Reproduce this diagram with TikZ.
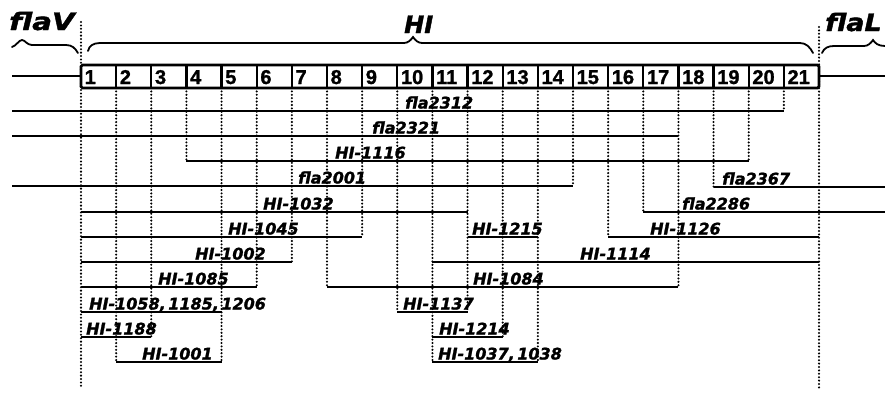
\documentclass[tikz,border=0pt]{standalone}
\usepackage{fontspec}
\newfontfamily\labfont{DejaVu Sans}[BoldItalicFeatures={FakeBold=1.5}]
\newfontfamily\numfont{Liberation Sans}[BoldFeatures={FakeBold=1.2}]
\newcommand\tightsp{\spaceskip=2.5pt\relax}
\begin{document}
\begin{tikzpicture}[x=1pt,y=-1pt,
  seg/.style={line width=2.4pt},
  dots/.style={line width=2.3pt, dash pattern=on 0pt off 3.4pt, line cap=round},
  brace/.style={line width=1.8pt, line cap=round},
  lab/.style={font=\labfont\bfseries\itshape\fontsize{16}{16}\selectfont, inner sep=0pt, anchor=base west, execute at begin node=\tightsp},
  biglab/.style={font=\labfont\bfseries\itshape\fontsize{24}{24}\selectfont, inner sep=0pt, anchor=base west},
  cellnum/.style={font=\numfont\bfseries\fontsize{20}{20}\selectfont, inner sep=0pt, anchor=base west}]
\useasboundingbox (0,0) rectangle (885,392);
\def\B#1{(81+35.143*#1)}
% boundary coordinates at box bottom
\foreach \k in {0,...,21}{\coordinate (b\k) at ({\B{\k}},88);}
% dotted guide lines
\draw[dots] (81,22) -- (81,388);
\draw[dots] (819,27) -- (819,388);
\foreach \k/\yb in {1/362,2/337,3/161,4/362,5/287,6/262,7/287,8/237,9/312,10/362,11/312,12/337,13/362,14/186,15/237,16/212,17/287,18/187,19/161,20/111}
  \draw[dots] (b\k) -- ({\B{\k}},\yb);
% main segment box
\draw[seg] (12,76) -- (81,76);
\draw[seg] (819,76) -- (885,76);
\draw[line width=2.6pt, fill=white, rounded corners=1.5pt] (81,65) rectangle (819,88);
\foreach \k in {1,...,20}
  \draw[line width=2.2pt] ({\B{\k}},65) -- ({\B{\k}},88);
\foreach \k in {1,...,21}
  \node[cellnum] (n\k) at ({\B{(\k-1)}+3.5},84) {\k};
% braces
\draw[brace] (12,47) .. controls (16,46) and (19,40) .. (22,40) .. controls (25,40) and (27,45) .. (32,45) -- (66,45) .. controls (72,45) and (75,48) .. (78,53);
\draw[brace] (88,51) .. controls (89,46) and (93,43) .. (100,43) -- (404,43) .. controls (408,43) and (411,40) .. (413,37) .. controls (415,40) and (418,43) .. (422,43) -- (800,43) .. controls (806,43) and (810,47) .. (813,53);
\draw[brace] (822,53) .. controls (824,48) and (828,46) .. (834,46) -- (864,46) .. controls (868,46) and (871,43) .. (873,40) .. controls (875,43) and (878,46) .. (885,46);
\node[biglab] (flaV) at (9,30) {\scalebox{1.22}[1]{flaV}};
\node[biglab] (HI) at (404,33) {HI};
\node[biglab] (flaL) at (825,31) {\scalebox{1.12}[1]{flaL}};
% deletion / clone lines with labels
\foreach \xa/\xb/\y/\lx/\name/\txt in {
  12/{\B{20}}/111/405/l1/fla2312,
  12/{\B{17}}/136/372/l2/fla2321,
  {\B{3}}/{\B{19}}/161/335/l3/HI-1116,
  12/{\B{14}}/186/298/l4/fla2001,
  {\B{18}}/885/187/722/l5/fla2367,
  {\B{0}}/{\B{11}}/212/263/l6/HI-1032,
  {\B{16}}/885/212/682/l7/fla2286,
  {\B{0}}/{\B{8}}/237/228/l8/HI-1045,
  {\B{11}}/{\B{13}}/237/472/l9/HI-1215,
  {\B{15}}/{\B{21}}/237/650/l10/HI-1126,
  {\B{0}}/{\B{6}}/262/195/l11/HI-1002,
  {\B{10}}/{\B{21}}/262/580/l12/HI-1114,
  {\B{0}}/{\B{5}}/287/158/l13/HI-1085,
  {\B{7}}/{\B{17}}/287/473/l14/HI-1084,
  {\B{0}}/{\B{4}}/312/89/l15/{HI-1058, 1185, 1206},
  {\B{9}}/{\B{11}}/312/403/l16/HI-1137,
  {\B{0}}/{\B{2}}/337/86/l17/HI-1188,
  {\B{10}}/{\B{12}}/337/439/l18/HI-1214,
  {\B{1}}/{\B{4}}/362/142/l19/HI-1001,
  {\B{10}}/{\B{13}}/362/438/l20/{HI-1037, 1038}}{
  \coordinate (\name a) at ({\xa},\y);
  \coordinate (\name b) at ({\xb},\y);
  \draw[seg] (\name a) -- (\name b);
  \node[lab] (\name t) at (\lx,{\y-2.5}) {\txt};
}
\end{tikzpicture}
\end{document}
